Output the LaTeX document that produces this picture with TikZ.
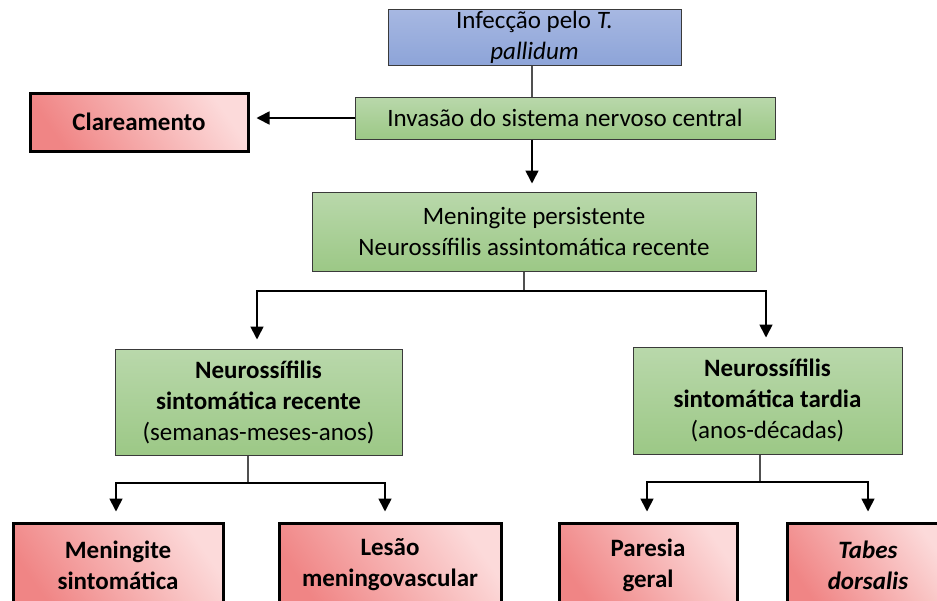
\documentclass[tikz,border=0pt]{standalone}
\usepackage{fontspec}
\setmainfont{Carlito}
\usetikzlibrary{arrows.meta}
\definecolor{btop}{HTML}{A7B8E2}
\definecolor{bbot}{HTML}{8DA4D8}
\definecolor{gtop}{HTML}{B9D8AB}
\definecolor{gbot}{HTML}{9CC886}
\definecolor{plight}{HTML}{FCDADA}
\definecolor{pdark}{HTML}{F08585}
\definecolor{boxline}{HTML}{3A3A3A}
\definecolor{stubgray}{HTML}{505050}
\begin{document}
\begin{tikzpicture}[x=1pt,y=-1pt,
  box/.style={draw=boxline, line width=1pt, align=center, inner sep=0pt,
    font=\fontsize{25}{31}\selectfont},
  greenbox/.style={box, top color=gtop, bottom color=gbot},
  bluebox/.style={box, top color=btop, bottom color=bbot},
  pinkbox/.style={box, draw=black, line width=3pt, top color=plight, bottom color=pdark,
    shading angle=-55, font=\fontsize{25}{31}\selectfont\bfseries},
  arr/.style={line width=1.7pt, -{Triangle[width=13pt,length=13pt]}},
  stub/.style={draw=stubgray, line width=1.2pt},
  hline/.style={line width=1.7pt}]
\useasboundingbox (0,0) rectangle (937,600);
\clip (0,0) rectangle (937,600);
\fill[white] (0,0) rectangle (937,600);

\node[bluebox, minimum width=293pt, minimum height=56pt] (inf) at (534.5,37)
  {Infecção pelo \textit{T.}\\ \textit{pallidum}};
\node[greenbox, minimum width=420pt, minimum height=42pt] (inv) at (565,118)
  {Invasão do sistema nervoso central};
\node[pinkbox, minimum width=218pt, minimum height=58pt] (clar) at (139,122)
  {Clareamento};
\node[greenbox, minimum width=444pt, minimum height=79pt] (mp) at (534,231.5)
  {Meningite persistente\\ Neurossífilis assintomática recente};
\node[greenbox, minimum width=287pt, minimum height=106pt] (lg) at (258.5,402)
  {\textbf{Neurossífilis}\\ \textbf{sintomática recente}\\ (semanas-meses-anos)};
\node[greenbox, minimum width=269pt, minimum height=107pt] (rg) at (767.5,400.5)
  {\textbf{Neurossífilis}\\ \textbf{sintomática tardia}\\ (anos-décadas)};
\node[pinkbox, minimum width=210pt, minimum height=84pt] (ms) at (118,565)
  {Meningite\\ sintomática};
\node[pinkbox, minimum width=222pt, minimum height=84pt] (lm) at (390,565)
  {Lesão\\ meningovascular};
\node[pinkbox, minimum width=178pt, minimum height=84pt] (pg) at (648,565)
  {Paresia\\ geral};
\node[pinkbox, minimum width=162pt, minimum height=84pt] (td) at (868,565)
  {\textit{Tabes}\\ \textit{dorsalis}};

% connectors
\coordinate (x1) at (532,0);
\draw[stub] (inf.south -| x1) -- (inv.north -| x1);
\draw[arr, shorten >=8pt] (inv.south -| x1) -- (mp.north -| x1);
\draw[arr, shorten >=7pt] (inv.west) -- (inv.west -| clar.east);

\coordinate (j1) at (524,291);
\draw[stub] (mp.south -| j1) -- (j1);
\draw[hline, arr, shorten >=9pt] (j1) -| (lg.north -| 257,0);
\draw[hline, arr, shorten >=9pt] (j1) -| (rg.north -| 766,0);

\coordinate (j2) at (248,483);
\draw[stub] (lg.south -| j2) -- (j2);
\draw[arr, shorten >=10pt] (j2) -| (ms.north -| 116,0);
\draw[arr, shorten >=10pt] (j2) -| (lm.north -| 385,0);

\coordinate (j3) at (760,482);
\draw[stub] (rg.south -| j3) -- (j3);
\draw[arr, shorten >=10pt] (j3) -| (pg.north -| 647,0);
\draw[arr, shorten >=10pt] (j3) -| (td.north -| 868,0);
\end{tikzpicture}
\end{document}
